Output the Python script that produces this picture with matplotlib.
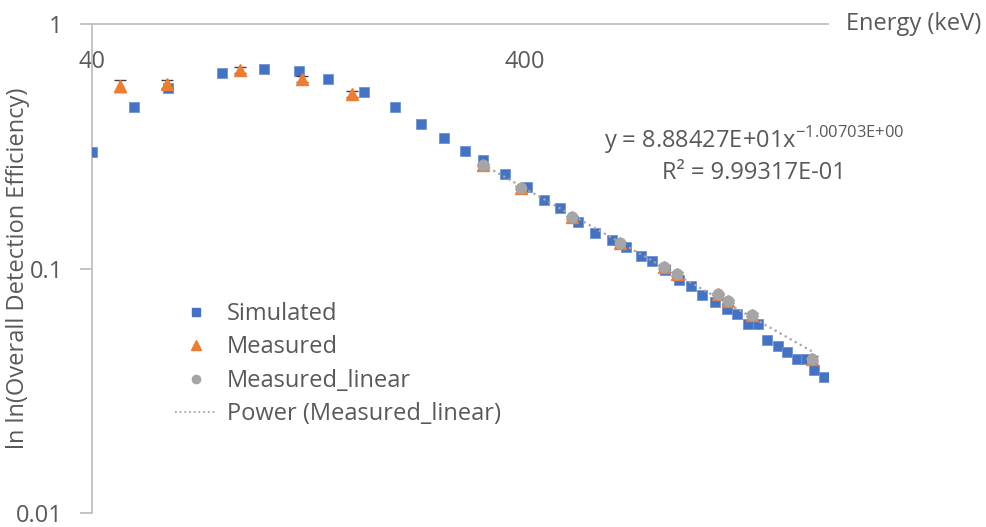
import numpy as np
import matplotlib
import matplotlib.pyplot as plt
from matplotlib.lines import Line2D
from matplotlib.ticker import FixedLocator, FixedFormatter, NullLocator

matplotlib.use("agg")

plt.rcParams["font.family"] = ["Open Sans", "DejaVu Sans"]
plt.rcParams["mathtext.fontset"] = "custom"
plt.rcParams["mathtext.rm"] = "Open Sans"

TEXT = "#595959"
AXIS = "#BFBFBF"
FS = 17

# simulated efficiency curve
sim_energy = [40, 50, 60, 80, 100, 120, 140, 170, 200, 230, 260, 290, 320, 360,
              403, 442, 482, 530, 581, 634, 683, 739, 784, 842, 904, 966, 1025,
              1097, 1169, 1235, 1308, 1381, 1446, 1530, 1611, 1693, 1776, 1860, 1954]
sim_eff = [0.301, 0.458, 0.548, 0.635, 0.656, 0.645, 0.600, 0.531, 0.458, 0.3925,
           0.344, 0.304, 0.279, 0.245, 0.216, 0.191, 0.177, 0.1553, 0.1404, 0.1311,
           0.1224, 0.1128, 0.1076, 0.0986, 0.0899, 0.0850, 0.0781, 0.0731, 0.0686,
           0.0655, 0.0592, 0.0592, 0.0512, 0.0484, 0.0455, 0.0428, 0.0426, 0.0385, 0.0359]

# measured points (low-energy part and the part used for the power fit)
low_energy = [46.5, 59.5, 88, 122, 159]
low_eff = [0.562, 0.571, 0.651, 0.598, 0.518]
low_err = [0.031, 0.021, 0.016, 0.016, 0.014]

lin_energy = [320, 392, 514, 662, 835, 898, 1116, 1173, 1333, 1836]
lin_eff = [0.2652, 0.2147, 0.1624, 0.1271, 0.1014, 0.0954, 0.0788, 0.0736, 0.0648, 0.0428]
lin_err = [0.003, 0.003, 0.002, 0.002, 0.002, 0.002, 0.001, 0.001, 0.001, 0.001]

meas_energy = low_energy + lin_energy
meas_eff = low_eff + lin_eff
meas_err = low_err + lin_err

# power trendline y = a * x^b
fit_a = 8.88427e+01
fit_b = -1.00703e+00

BLUE, ORANGE, GREY = "#4472C4", "#ED7D31", "#A5A5A5"
DOTS = (0, (1, 1.6))

fig = plt.figure(figsize=(9.87, 5.27), dpi=100)
ax = fig.add_axes([92 / 987, 1 - 513 / 527, 736 / 987, 488.5 / 527])

ax.plot(sim_energy, sim_eff, "s", color=BLUE, ms=7.4, mec="#6F93D6", mew=0.6, zorder=3)
ax.errorbar(meas_energy, meas_eff, yerr=meas_err, fmt="^", color=ORANGE, ms=8,
            mec=ORANGE, ecolor="#404040", elinewidth=1, capsize=4, capthick=1, zorder=4)
ax.plot(lin_energy, lin_eff, "o", color=GREY, ms=7.6, mec=GREY, zorder=5)

fx = np.geomspace(min(lin_energy), max(lin_energy), 100)
ax.plot(fx, fit_a * fx ** fit_b, ls=DOTS, color=GREY, lw=1.6, zorder=6)

ax.set_xscale("log")
ax.set_yscale("log")
ax.set_xlim(40, 2000)
ax.set_ylim(0.01, 1)

for side in ("bottom", "right"):
    ax.spines[side].set_visible(False)
for side in ("left", "top"):
    ax.spines[side].set_color(AXIS)
    ax.spines[side].set_linewidth(1.3)

ax.yaxis.set_major_locator(FixedLocator([0.01, 0.1, 1]))
ax.yaxis.set_major_formatter(FixedFormatter(["0.01", "0.1", "1"]))
ax.yaxis.set_minor_locator(NullLocator())
ax.tick_params(axis="y", direction="out", length=9, width=1.3, color=AXIS,
               labelcolor=TEXT, labelsize=FS, pad=12)

ax.xaxis.set_ticks_position("top")
ax.xaxis.set_major_locator(FixedLocator([40, 400]))
ax.xaxis.set_major_formatter(FixedFormatter(["40", "400"]))
ax.xaxis.set_minor_locator(NullLocator())
ax.tick_params(axis="x", length=0, labelcolor=TEXT, labelsize=FS, pad=-36)

ax.annotate("Energy (keV)", xy=(1, 1), xycoords="axes fraction", xytext=(18, 0),
            textcoords="offset pixels", ha="left", va="center", color=TEXT, fontsize=FS)

ax.set_ylabel("ln ln(Overall Detection Efficiency)", color=TEXT, fontsize=FS)
ax.yaxis.set_label_coords(-0.084, 0.5)

ax.text(0.8995, 0.734,
        "y = 8.88427E+01x$^{\\mathregular{-1.00703E{+}00}}$\nR\u00b2 = 9.99317E-01",
        transform=ax.transAxes, ha="center", va="center", multialignment="center",
        color=TEXT, fontsize=FS, linespacing=1.25)

handles = [
    Line2D([], [], ls="none", marker="s", color=BLUE, ms=6),
    Line2D([], [], ls="none", marker="^", color=ORANGE, ms=6.5),
    Line2D([], [], ls="none", marker="o", color=GREY, ms=6),
    Line2D([], [], ls=DOTS, color=GREY, lw=1.3),
]
labels = ["Simulated", "Measured", "Measured_linear", "Power (Measured_linear)"]
ax.legend(handles, labels, loc="upper left", bbox_to_anchor=(175 / 987, 1 - 302 / 527),
          bbox_transform=fig.transFigure, frameon=False, fontsize=FS,
          borderpad=0, borderaxespad=0, handlelength=1.75, handletextpad=0.45,
          labelspacing=0.4, labelcolor=TEXT)

fig.savefig("out.png", dpi=100)
